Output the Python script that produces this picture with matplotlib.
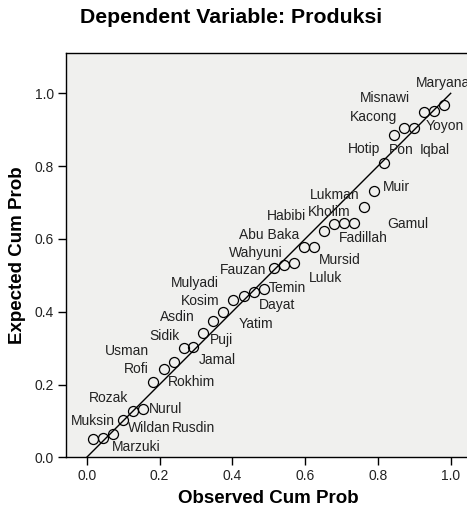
import matplotlib
matplotlib.use("Agg")
import matplotlib.pyplot as plt

plt.rcParams['font.family'] = ['Liberation Sans', 'DejaVu Sans']

# Normal P-P plot of regression standardized residual
observed = [0.017, 0.046, 0.072, 0.100, 0.127, 0.155, 0.182, 0.211, 0.239, 0.266,
            0.293, 0.320, 0.347, 0.375, 0.403, 0.431, 0.459, 0.487, 0.515, 0.542,
            0.570, 0.597, 0.624, 0.652, 0.679, 0.706, 0.734, 0.762, 0.789, 0.817,
            0.844, 0.872, 0.899, 0.927, 0.954, 0.982]
expected = [0.049, 0.054, 0.064, 0.102, 0.128, 0.134, 0.207, 0.242, 0.261, 0.300,
            0.304, 0.341, 0.375, 0.400, 0.432, 0.444, 0.455, 0.463, 0.521, 0.528,
            0.533, 0.578, 0.578, 0.622, 0.641, 0.643, 0.643, 0.689, 0.732, 0.809,
            0.886, 0.904, 0.904, 0.949, 0.952, 0.967]

case_names = ['Maryana', 'Misnawi', 'Kacong', 'Yoyon', 'Hotip', 'Pon', 'Iqbal', 'Muir',
              'Lukman', 'Kholim', 'Habibi', 'Gamul', 'Abu Baka', 'Fadillah', 'Wahyuni',
              'Mursid', 'Fauzan', 'Luluk', 'Temin', 'Mulyadi', 'Dayat', 'Kosim', 'Asdin',
              'Yatim', 'Sidik', 'Puji', 'Usman', 'Jamal', 'Rofi', 'Rokhim', 'Rozak',
              'Nurul', 'Muksin', 'Wildan', 'Rusdin', 'Marzuki']

ticks = [0.0, 0.2, 0.4, 0.6, 0.8, 1.0]

# where each case label sits (left edge, vertical centre), data coords
label_pos = {
    'Maryana': (0.904, 1.027), 'Misnawi': (0.751, 0.988), 'Kacong': (0.723, 0.936),
    'Yoyon': (0.931, 0.910), 'Hotip': (0.718, 0.848), 'Pon': (0.830, 0.844),
    'Iqbal': (0.916, 0.844), 'Muir': (0.814, 0.743), 'Lukman': (0.613, 0.721),
    'Kholim': (0.608, 0.673), 'Habibi': (0.496, 0.664), 'Gamul': (0.826, 0.641),
    'Abu Baka': (0.418, 0.611), 'Fadillah': (0.693, 0.602), 'Wahyuni': (0.391, 0.560),
    'Mursid': (0.638, 0.542), 'Fauzan': (0.365, 0.514), 'Luluk': (0.611, 0.492),
    'Temin': (0.499, 0.464), 'Mulyadi': (0.231, 0.478), 'Dayat': (0.473, 0.418),
    'Kosim': (0.258, 0.430), 'Asdin': (0.201, 0.385), 'Yatim': (0.418, 0.365),
    'Sidik': (0.171, 0.333), 'Puji': (0.339, 0.322), 'Usman': (0.049, 0.292),
    'Jamal': (0.307, 0.267), 'Rofi': (0.101, 0.243), 'Rokhim': (0.223, 0.206),
    'Rozak': (0.005, 0.162), 'Nurul': (0.171, 0.132), 'Muksin': (-0.044, 0.101),
    'Wildan': (0.113, 0.080), 'Rusdin': (0.233, 0.080), 'Marzuki': (0.068, 0.029),
}

fig = plt.figure(figsize=(4.67, 5.15), dpi=100)
fig.patch.set_facecolor('white')
ax = fig.add_axes([0.1407, 0.1120, 0.8657, 0.7856])
ax.set_facecolor('#f0f0ee')

# reference diagonal
ax.plot([0, 1], [0, 1], color='black', linewidth=1.0, zorder=2)
ax.plot(observed, expected, 'o', markersize=7.2, markerfacecolor='none',
        markeredgecolor='black', markeredgewidth=0.9, zorder=3)

for name in case_names:
    lx, ly = label_pos[name]
    ax.text(lx, ly, name, ha='left', va='center', fontsize=10, color='#222222',
            zorder=4)

ax.set_xlim(-0.0577, 1.053)
ax.set_ylim(0.0, 1.1115)
ax.set_xticks(ticks)
ax.set_yticks(ticks)
ax.set_xticklabels([f'{t:.1f}' for t in ticks])
ax.set_yticklabels([f'{t:.1f}' for t in ticks])
ax.tick_params(direction='out', length=5.5, width=1.0, labelsize=10, pad=3,
               colors='black', labelcolor='#222222')

for side in ['top', 'left', 'bottom']:
    ax.spines[side].set_linewidth(1.0)
    ax.spines[side].set_color('black')
ax.spines['right'].set_visible(False)

ax.set_xlabel('Observed Cum Prob', fontsize=13.5, fontweight='bold', labelpad=5)
ax.set_ylabel('Expected Cum Prob', fontsize=13.5, fontweight='bold', labelpad=6)
fig.text(0.494, 0.966, 'Dependent Variable: Produksi', ha='center', va='center',
         fontsize=15.3, fontweight='bold')

fig.savefig('out.png', dpi=100)
